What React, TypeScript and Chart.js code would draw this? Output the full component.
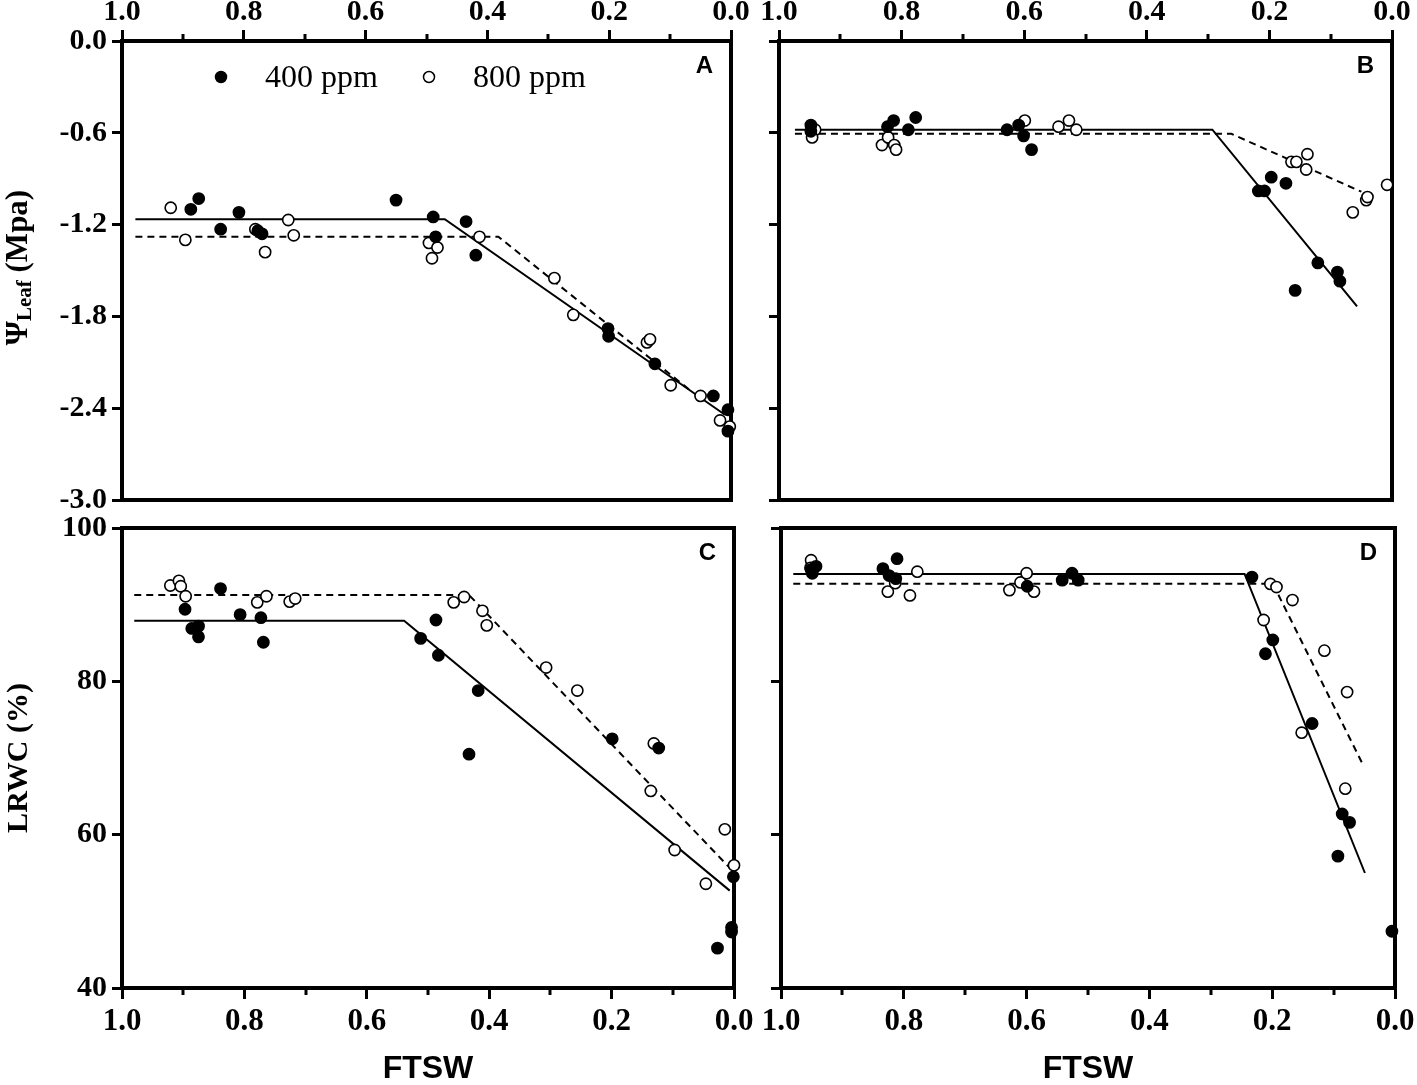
import { useEffect, useRef } from "react";
import { Chart, registerables } from "chart.js";

Chart.register(...registerables);

const W = 1417;
const H = 1085;

const SERIF = '"Liberation Serif", "Times New Roman", serif';
const SANS = '"Liberation Sans", Arial, sans-serif';

// minor (unlabelled) FTSW ticks
const MINOR_TICKS = [0.1, 0.3, 0.5, 0.7, 0.9];

// ---- Panel A: leaf water potential ----
const aFtsw400 = [0.874, 0.887, 0.808, 0.838, 0.77, 0.777, 0.55, 0.489, 0.485, 0.435, 0.419, 0.202, 0.201, 0.125, 0.029, 0.005, 0.005];
const aPsi400 = [-1.03, -1.1, -1.12, -1.23, -1.26, -1.24, -1.04, -1.15, -1.28, -1.18, -1.4, -1.88, -1.93, -2.11, -2.32, -2.41, -2.55];
const aFtsw800 = [0.92, 0.896, 0.781, 0.765, 0.727, 0.718, 0.496, 0.482, 0.491, 0.413, 0.29, 0.259, 0.138, 0.133, 0.099, 0.05, 0.018, 0.002];
const aPsi800 = [-1.09, -1.3, -1.23, -1.38, -1.17, -1.27, -1.32, -1.35, -1.42, -1.28, -1.55, -1.79, -1.97, -1.95, -2.25, -2.32, -2.48, -2.52];
const aFitX400 = [0.978, 0.47, 0.01];
const aFitY400 = [-1.165, -1.165, -2.443];
const aFitX800 = [0.978, 0.382, 0.065];
const aFitY800 = [-1.279, -1.279, -2.29];

// ---- Panel B ----
const bFtsw400 = [0.948, 0.948, 0.823, 0.813, 0.777, 0.789, 0.628, 0.609, 0.601, 0.588, 0.218, 0.208, 0.197, 0.173, 0.158, 0.121, 0.089, 0.085];
const bPsi400 = [-0.55, -0.59, -0.56, -0.52, -0.5, -0.58, -0.58, -0.55, -0.62, -0.71, -0.98, -0.98, -0.89, -0.93, -1.63, -1.45, -1.51, -1.57];
const bFtsw800 = [0.941, 0.946, 0.832, 0.822, 0.812, 0.809, 0.599, 0.544, 0.527, 0.515, 0.164, 0.156, 0.138, 0.14, 0.064, 0.042, 0.04, 0.008];
const bPsi800 = [-0.58, -0.63, -0.68, -0.63, -0.68, -0.71, -0.52, -0.56, -0.52, -0.58, -0.79, -0.79, -0.74, -0.84, -1.12, -1.04, -1.02, -0.94];
const bFitX400 = [0.974, 0.293, 0.057];
const bFitY400 = [-0.58, -0.58, -1.735];
const bFitX800 = [0.974, 0.262, 0.05];
const bFitY800 = [-0.607, -0.607, -0.985];

// ---- Panel C: LRWC ----
const cFtsw400 = [0.897, 0.886, 0.875, 0.875, 0.839, 0.807, 0.773, 0.769, 0.512, 0.487, 0.483, 0.418, 0.433, 0.199, 0.123, 0.027, 0.004, 0.004, 0.001];
const cLrwc400 = [89.4, 86.9, 87.2, 85.8, 92.1, 88.7, 88.3, 85.1, 85.6, 88.0, 83.4, 78.8, 70.5, 72.5, 71.3, 45.2, 47.9, 47.3, 54.5];
const cFtsw800 = [0.921, 0.907, 0.904, 0.896, 0.779, 0.764, 0.726, 0.717, 0.458, 0.441, 0.411, 0.404, 0.307, 0.256, 0.131, 0.136, 0.097, 0.046, 0.015, 0.0];
const cLrwc800 = [92.5, 93.1, 92.4, 91.1, 90.3, 91.1, 90.4, 90.8, 90.3, 91.0, 89.2, 87.3, 81.8, 78.8, 71.9, 65.7, 58.0, 53.6, 60.7, 56.0];
const cFitX400 = [0.98, 0.539, 0.007];
const cFitY400 = [87.9, 87.9, 52.7];
const cFitX800 = [0.98, 0.433, 0.005];
const cFitY800 = [91.27, 91.27, 55.5];

// ---- Panel D ----
const dFtsw400 = [0.949, 0.943, 0.951, 0.834, 0.811, 0.824, 0.813, 0.599, 0.542, 0.526, 0.516, 0.233, 0.199, 0.211, 0.135, 0.086, 0.074, 0.093, 0.005];
const dLrwc400 = [94.1, 95.0, 94.6, 94.7, 96.0, 93.8, 93.4, 92.4, 93.2, 94.1, 93.2, 93.6, 85.4, 83.6, 74.5, 62.7, 61.6, 57.2, 47.4];
const dFtsw800 = [0.951, 0.952, 0.826, 0.814, 0.79, 0.778, 0.628, 0.61, 0.6, 0.588, 0.214, 0.203, 0.193, 0.167, 0.152, 0.115, 0.078, 0.081];
const dLrwc800 = [95.8, 94.8, 91.7, 92.8, 91.2, 94.3, 91.9, 92.9, 94.1, 91.7, 88.0, 92.7, 92.3, 90.6, 73.3, 84.0, 78.6, 66.0];
const dFitX400 = [0.98, 0.245, 0.049];
const dFitY400 = [94.0, 94.0, 55.0];
const dFitX800 = [0.98, 0.199, 0.052];
const dFitY800 = [92.74, 92.74, 69.1];

type Area = { left: number; top: number; right: number; bottom: number };

type Panel = {
  letter: string;
  area: Area;
  xAt: "top" | "bottom";
  yMin: number;
  yMax: number;
  yStep: number;
  yDigits: number;
  yLabels: boolean;
  yTitle?: string;
  legend?: boolean;
  psiTitle?: boolean;
  x400: number[];
  y400: number[];
  x800: number[];
  y800: number[];
  fx400: number[];
  fy400: number[];
  fx800: number[];
  fy800: number[];
};

const PANELS: Panel[] = [
  {
    letter: "A",
    area: { left: 122, top: 41, right: 731, bottom: 500 },
    xAt: "top",
    yMin: -3,
    yMax: 0,
    yStep: 0.6,
    yDigits: 1,
    yLabels: true,
    legend: true,
    psiTitle: true,
    x400: aFtsw400, y400: aPsi400, x800: aFtsw800, y800: aPsi800,
    fx400: aFitX400, fy400: aFitY400, fx800: aFitX800, fy800: aFitY800,
  },
  {
    letter: "B",
    area: { left: 779, top: 41, right: 1392, bottom: 500 },
    xAt: "top",
    yMin: -3,
    yMax: 0,
    yStep: 0.6,
    yDigits: 1,
    yLabels: false,
    x400: bFtsw400, y400: bPsi400, x800: bFtsw800, y800: bPsi800,
    fx400: bFitX400, fy400: bFitY400, fx800: bFitX800, fy800: bFitY800,
  },
  {
    letter: "C",
    area: { left: 122, top: 528, right: 734, bottom: 988 },
    xAt: "bottom",
    yMin: 40,
    yMax: 100,
    yStep: 20,
    yDigits: 0,
    yLabels: true,
    yTitle: "LRWC (%)",
    x400: cFtsw400, y400: cLrwc400, x800: cFtsw800, y800: cLrwc800,
    fx400: cFitX400, fy400: cFitY400, fx800: cFitX800, fy800: cFitY800,
  },
  {
    letter: "D",
    area: { left: 781, top: 528, right: 1395, bottom: 988 },
    xAt: "bottom",
    yMin: 40,
    yMax: 100,
    yStep: 20,
    yDigits: 0,
    yLabels: false,
    x400: dFtsw400, y400: dLrwc400, x800: dFtsw800, y800: dLrwc800,
    fx400: dFitX400, fy400: dFitY400, fx800: dFitX800, fy800: dFitY800,
  },
];

const fmt = (v: number, digits: number) =>
  (Math.abs(v) < 1e-9 ? 0 : v).toFixed(digits);

const toPoints = (xs: number[], ys: number[]) =>
  xs.map((x, i) => ({ x, y: ys[i] }));

const decorPlugin = {
  id: "decor",
  beforeDatasetsDraw(chart: any, _args: any, opts: any) {
    const { ctx, chartArea: a } = chart;
    const xs = chart.scales.x;
    ctx.save();
    ctx.strokeStyle = "#000";
    ctx.lineWidth = 3;
    for (const v of MINOR_TICKS) {
      const px = Math.round(xs.getPixelForValue(v));
      const y0 = opts.xAt === "top" ? a.top : a.bottom;
      const y1 = opts.xAt === "top" ? a.top - 7 : a.bottom + 7;
      ctx.beginPath();
      ctx.moveTo(px, y0);
      ctx.lineTo(px, y1);
      ctx.stroke();
    }
    ctx.lineWidth = 4;
    ctx.strokeRect(a.left, a.top, a.right - a.left, a.bottom - a.top);
    ctx.restore();
  },
  afterDraw(chart: any, _args: any, opts: any) {
    const { ctx, chartArea: a } = chart;
    ctx.save();
    ctx.fillStyle = "#000";
    ctx.font = `bold 24px ${SANS}`;
    ctx.textAlign = "right";
    ctx.textBaseline = "alphabetic";
    ctx.fillText(opts.letter, a.right - 18, a.top + 32);

    if (opts.legend) {
      const entries = [
        { label: "400 ppm", fill: "#000", dx: 99 },
        { label: "800 ppm", fill: "#fff", dx: 307 },
      ];
      ctx.font = `32px ${SERIF}`;
      ctx.textAlign = "left";
      for (const e of entries) {
        ctx.beginPath();
        ctx.arc(a.left + e.dx, a.top + 36, 5.5, 0, Math.PI * 2);
        ctx.fillStyle = e.fill;
        ctx.fill();
        ctx.lineWidth = 1.5;
        ctx.strokeStyle = "#000";
        ctx.stroke();
        ctx.fillStyle = "#000";
        ctx.fillText(e.label, a.left + e.dx + 44, a.top + 46);
      }
    }

    if (opts.psiTitle) {
      const cy = (a.top + a.bottom) / 2 - 3;
      ctx.translate(19, cy);
      ctx.rotate(-Math.PI / 2);
      ctx.textAlign = "left";
      ctx.textBaseline = "middle";
      const big = `bold 31px ${SERIF}`;
      const small = `bold 21px ${SERIF}`;
      ctx.font = big;
      const w1 = ctx.measureText("\u03A8").width;
      const w3 = ctx.measureText(" (Mpa)").width;
      ctx.font = small;
      const w2 = ctx.measureText("Leaf").width;
      let x = -(w1 + w2 + w3) / 2;
      ctx.font = big;
      ctx.fillText("\u03A8", x, 0);
      x += w1;
      ctx.font = small;
      ctx.fillText("Leaf", x, 7);
      x += w2;
      ctx.font = big;
      ctx.fillText(" (Mpa)", x, 0);
    }
    ctx.restore();
  },
};

function buildConfig(p: Panel): any {
  const tickFont = { family: SERIF, size: 30, weight: "bold" as const };
  const pointBase = {
    showLine: false,
    pointRadius: 5.6,
    pointBorderWidth: 1.6,
    pointBorderColor: "#000",
    clip: false,
  };
  return {
    type: "scatter",
    data: {
      datasets: [
        {
          ...pointBase,
          label: "400 ppm",
          data: toPoints(p.x400, p.y400),
          pointBackgroundColor: "#000",
          backgroundColor: "#000",
          borderColor: "#000",
        },
        {
          ...pointBase,
          label: "800 ppm",
          data: toPoints(p.x800, p.y800),
          pointBackgroundColor: "#fff",
          backgroundColor: "#fff",
          borderColor: "#000",
        },
        {
          label: "400 ppm fit",
          data: toPoints(p.fx400, p.fy400),
          showLine: true,
          pointRadius: 0,
          borderColor: "#000",
          borderWidth: 2,
          clip: false,
        },
        {
          label: "800 ppm fit",
          data: toPoints(p.fx800, p.fy800),
          showLine: true,
          pointRadius: 0,
          borderColor: "#000",
          borderWidth: 2,
          borderDash: [7, 5],
          clip: false,
        },
      ],
    },
    options: {
      responsive: false,
      animation: false,
      events: [],
      layout: {
        padding: {
          left: 0,
          top: p.xAt === "top" ? 0 : p.area.top,
          right: W - p.area.right,
          bottom: p.xAt === "top" ? H - p.area.bottom : 0,
        },
      },
      plugins: {
        legend: { display: false },
        tooltip: { enabled: false },
        decor: {
          letter: p.letter,
          xAt: p.xAt,
          legend: !!p.legend,
          psiTitle: !!p.psiTitle,
        },
      },
      scales: {
        x: {
          type: "linear",
          position: p.xAt,
          reverse: true,
          min: 0,
          max: 1,
          ticks: {
            stepSize: 0.2,
            autoSkip: false,
            maxRotation: 0,
            color: "#000",
            font: p.xAt === "top" ? tickFont : { ...tickFont, size: 31 },
            padding: p.xAt === "top" ? 0 : 4,
            callback: (v: number) => fmt(v, 1),
          },
          grid: {
            drawOnChartArea: false,
            drawTicks: true,
            tickLength: 11,
            tickWidth: 3,
            tickColor: "#000",
          },
          border: { display: true, width: 4, color: "#000" },
          title: {
            display: p.xAt === "bottom",
            text: "FTSW",
            color: "#000",
            font: { family: SANS, size: 32, weight: "bold", lineHeight: 1 },
            padding: { top: 0, bottom: 0 },
          },
          afterFit: (s: any) => {
            s.height = p.xAt === "top" ? p.area.top : H - p.area.bottom;
            s.paddingLeft = 0;
            s.paddingRight = 0;
          },
        },
        y: {
          type: "linear",
          position: "left",
          min: p.yMin,
          max: p.yMax,
          ticks: {
            stepSize: p.yStep,
            autoSkip: false,
            color: "#000",
            font: tickFont,
            padding: 5,
            callback: (v: number) => (p.yLabels ? fmt(v, p.yDigits) : ""),
          },
          grid: {
            drawOnChartArea: false,
            drawTicks: true,
            tickLength: 10,
            tickWidth: 3,
            tickColor: "#000",
          },
          border: { display: true, width: 4, color: "#000" },
          title: {
            display: !!p.yTitle,
            text: p.yTitle || "",
            color: "#000",
            font: { family: SERIF, size: 30, weight: "bold", lineHeight: 1 },
            padding: { top: 4, bottom: 0 },
          },
          afterFit: (s: any) => {
            s.width = p.area.left;
            s.paddingTop = 0;
            s.paddingBottom = 0;
          },
        },
      },
    },
    plugins: [decorPlugin],
  };
}

function PanelCanvas({ panel }: { panel: Panel }) {
  const canvasRef = useRef<HTMLCanvasElement>(null);

  useEffect(() => {
    if (!canvasRef.current) return;
    const chart = new Chart(canvasRef.current, buildConfig(panel));
    return () => {
      chart.destroy();
    };
  }, [panel]);

  return (
    <canvas
      ref={canvasRef}
      width={W}
      height={H}
      style={{ position: "absolute", left: 0, top: 0, width: W, height: H }}
    />
  );
}

export default function App() {
  return (
    <div
      style={{
        position: "absolute",
        left: 0,
        top: 0,
        width: W,
        height: H,
        background: "#fff",
        overflow: "hidden",
      }}
    >
      {PANELS.map((p) => (
        <PanelCanvas key={p.letter} panel={p} />
      ))}
    </div>
  );
}
